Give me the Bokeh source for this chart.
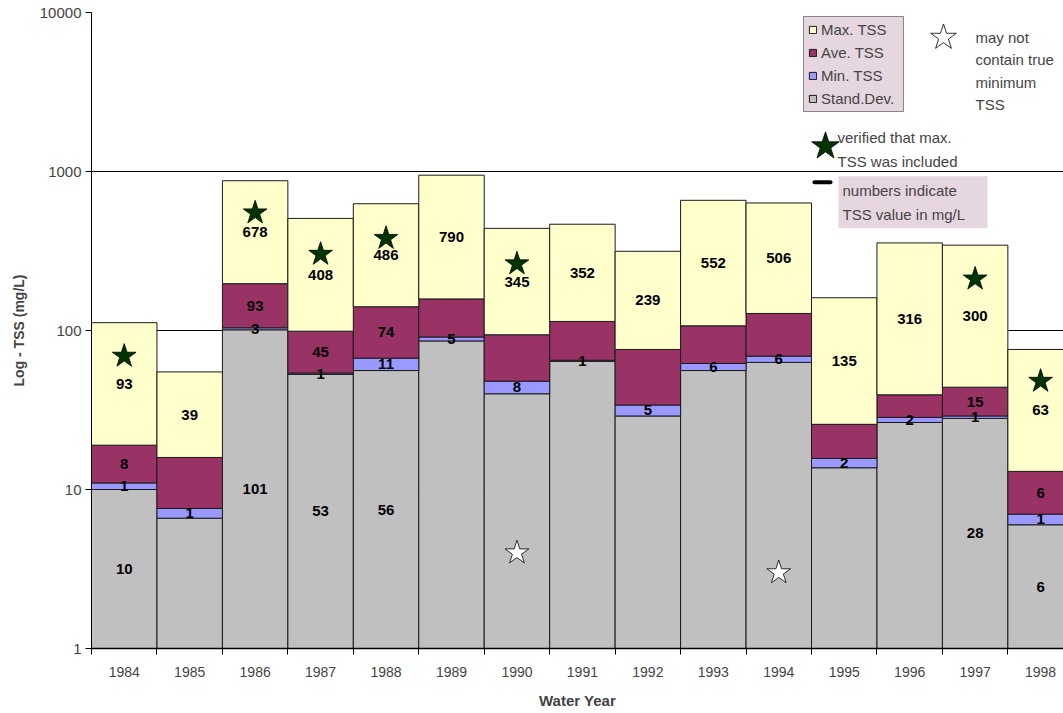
from bokeh.plotting import figure
from bokeh.models import (Range1d, FixedTicker, Legend, LegendItem, Label,
                          BoxAnnotation, ColumnDataSource, NumeralTickFormatter)
from bokeh.embed import file_html
from bokeh.resources import INLINE
from bokeh.core.properties import value

# ---------------- data ----------------
years = [1984, 1985, 1986, 1987, 1988, 1989, 1990, 1991, 1992, 1993, 1994, 1995, 1996, 1997, 1998]
std_dev = [10, 6.6, 101, 53, 56, 86, 40, 64, 29, 56, 63, 13.7, 26.4, 28, 6]
min_tss = [1, 1, 3, 1, 11, 5, 8, 1, 5, 6, 6, 2, 2, 1, 1]
ave_tss = [8, 8.3, 93, 45, 74, 67, 46, 49, 42, 45, 59, 10, 11, 15, 6]
max_tss = [93, 39, 678, 408, 486, 790, 345, 352, 239, 552, 506, 135, 316, 300, 63]

std_labels = ["10", "", "101", "53", "56", "", "", "", "", "", "", "", "", "28", "6"]
min_labels = ["1", "1", "3", "1", "11", "5", "8", "1", "5", "6", "6", "2", "2", "1", "1"]
ave_labels = ["8", "", "93", "45", "74", "", "", "", "", "", "", "", "", "15", "6"]
max_labels = ["93", "39", "678", "408", "486", "790", "345", "352", "239", "552", "506", "135", "316", "300", "63"]

verified_years = [1984, 1986, 1987, 1988, 1990, 1997, 1998]
verified_y = [69, 550, 302, 380, 263, 211, 48]
partial_years = [1990, 1994]
partial_y = [4.0, 3.0]

y_ticks = [1, 10, 100, 1000, 10000]

# ---------------- layout ----------------
W, H = 1063, 711
BL, BR, BT, BB = 91, 0, 12, 62
X0, X1 = 1983.5, 1998.35
FL, FR = BL, W - BR
FT, FB = BT, H - BB

FONT = "Liberation Sans"

def px_x(px):
    return X0 + (px - FL) * (X1 - X0) / (FR - FL)

def px_y(py):
    return 10 ** ((FB - py) / (FB - FT) * 4.0)

p = figure(width=W, height=H, y_axis_type="log", x_range=Range1d(X0, X1),
           y_range=Range1d(1, 10000), output_backend="svg", toolbar_location=None,
           min_border_left=BL, min_border_right=BR, min_border_top=BT, min_border_bottom=BB)
p.outline_line_color = None
p.background_fill_color = "white"

# stacking
b_sd = [1] * len(years)
t_sd = list(std_dev)
t_min = [a + b for a, b in zip(t_sd, min_tss)]
t_ave = [a + b for a, b in zip(t_min, ave_tss)]
t_max = [a + b for a, b in zip(t_ave, max_tss)]

segs = [
    ("Stand.Dev.", b_sd, t_sd, "#C0C0C0", std_labels),
    ("Min. TSS", t_sd, t_min, "#9999FF", min_labels),
    ("Ave. TSS", t_min, t_ave, "#993366", ave_labels),
    ("Max. TSS", t_ave, t_max, "#FFFFCC", max_labels),
]
renderers = {}
lx, ly, lt = [], [], []
for name, bot, top, col, labs in segs:
    r = p.vbar(x=years, width=1.0, bottom=bot, top=top, fill_color=col,
               line_color="#1a1a1a", line_width=1)
    renderers[name] = r
    for x, b, t, s in zip(years, bot, top, labs):
        if s:
            lx.append(x)
            ly.append((b * t) ** 0.5)
            lt.append(s)

src = ColumnDataSource(dict(x=lx, y=ly, t=lt))
p.text(x="x", y="y", text="t", source=src, text_align="center", text_baseline="middle",
       text_font=value(FONT), text_font_style="bold", text_font_size="15px", text_color="black")

p.scatter(x=verified_years, y=verified_y, marker="star", size=25,
          fill_color="#003300", line_color="black", line_width=0.8)
p.scatter(x=partial_years, y=partial_y, marker="star", size=25,
          fill_color="white", line_color="black", line_width=0.8)

# axes
p.yaxis.ticker = FixedTicker(ticks=y_ticks)
p.yaxis.formatter = NumeralTickFormatter(format="0")
p.yaxis.major_tick_out = 6
p.yaxis.major_tick_in = 0
p.yaxis.minor_tick_line_color = None
p.yaxis.major_label_text_font = FONT
p.yaxis.major_label_text_font_size = "15px"
p.yaxis.major_label_standoff = 4
p.yaxis.axis_label = "Log - TSS (mg/L)"
p.yaxis.axis_label_text_font = FONT
p.yaxis.axis_label_text_font_style = "bold"
p.yaxis.axis_label_text_font_size = "14px"
p.yaxis.axis_label_standoff = 10
p.yaxis.axis_line_color = "black"

boundaries = [X0] + [y + 0.5 for y in years]
p.xaxis.ticker = FixedTicker(ticks=years, minor_ticks=boundaries)
p.xaxis.major_tick_out = 0
p.xaxis.major_tick_in = 0
p.xaxis.minor_tick_out = 6
p.xaxis.minor_tick_in = 0
p.xaxis.minor_tick_line_color = "black"
p.xaxis.major_label_text_font = FONT
p.xaxis.major_label_text_font_size = "14px"
p.xaxis.major_label_standoff = 12
p.xaxis.axis_label = "Water Year"
p.xaxis.axis_label_text_font = FONT
p.xaxis.axis_label_text_font_style = "bold"
p.xaxis.axis_label_text_font_size = "15px"
p.xaxis.axis_label_standoff = 12
p.xaxis.axis_line_color = "black"
p.xaxis.axis_line_width = 1.5

p.xgrid.grid_line_color = None
p.ygrid.grid_line_color = "black"
p.ygrid.grid_line_width = 1

# legend
items = [LegendItem(label=n, renderers=[renderers[n]]) for n in ["Max. TSS", "Ave. TSS", "Min. TSS", "Stand.Dev."]]
leg = Legend(items=items, location=(803 - FL, FB - 113), orientation="vertical",
             background_fill_color="#E6D6DF", background_fill_alpha=1.0,
             border_line_color="#333333", border_line_width=1,
             label_text_font=FONT, label_text_font_size="15px",
             glyph_width=9, glyph_height=9, label_height=15, label_width=78,
             label_standoff=4, spacing=6, padding=4, margin=0)
p.add_layout(leg, "center")

# side notes
NOTE = "15px"
p.scatter(x=[px_x(943)], y=[px_y(37)], marker="star", size=27,
          fill_color="white", line_color="black", line_width=0.8)
for i, s in enumerate(["may not", "contain true", "minimum", "TSS"]):
    p.add_layout(Label(x=px_x(975), y=px_y(37 + 22.5 * i), text=s, text_font=FONT,
                       text_font_size=NOTE, text_baseline="middle", text_align="left"))
p.scatter(x=[px_x(825)], y=[px_y(146)], marker="star", size=29,
          fill_color="#003300", line_color="black", line_width=0.8)
for i, s in enumerate(["verified that max.", "TSS was included"]):
    p.add_layout(Label(x=px_x(837), y=px_y(137 + 24 * i), text=s, text_font=FONT,
                       text_font_size=NOTE, text_baseline="middle", text_align="left"))
p.segment(x0=[px_x(814)], y0=[px_y(182)], x1=[px_x(830)], y1=[px_y(182)],
          line_width=4, line_cap="round", line_color="black")
p.add_layout(BoxAnnotation(left=px_x(838), right=px_x(987), top=px_y(176), bottom=px_y(228),
                           fill_color="#E6D6DF", fill_alpha=1.0, line_color=None))
for i, s in enumerate(["numbers indicate", "TSS value in mg/L"]):
    p.add_layout(Label(x=px_x(842), y=px_y(190 + 24 * i), text=s, text_font=FONT,
                       text_font_size=NOTE, text_baseline="middle", text_align="left"))

open("out.html", "w").write(file_html(p, INLINE))
